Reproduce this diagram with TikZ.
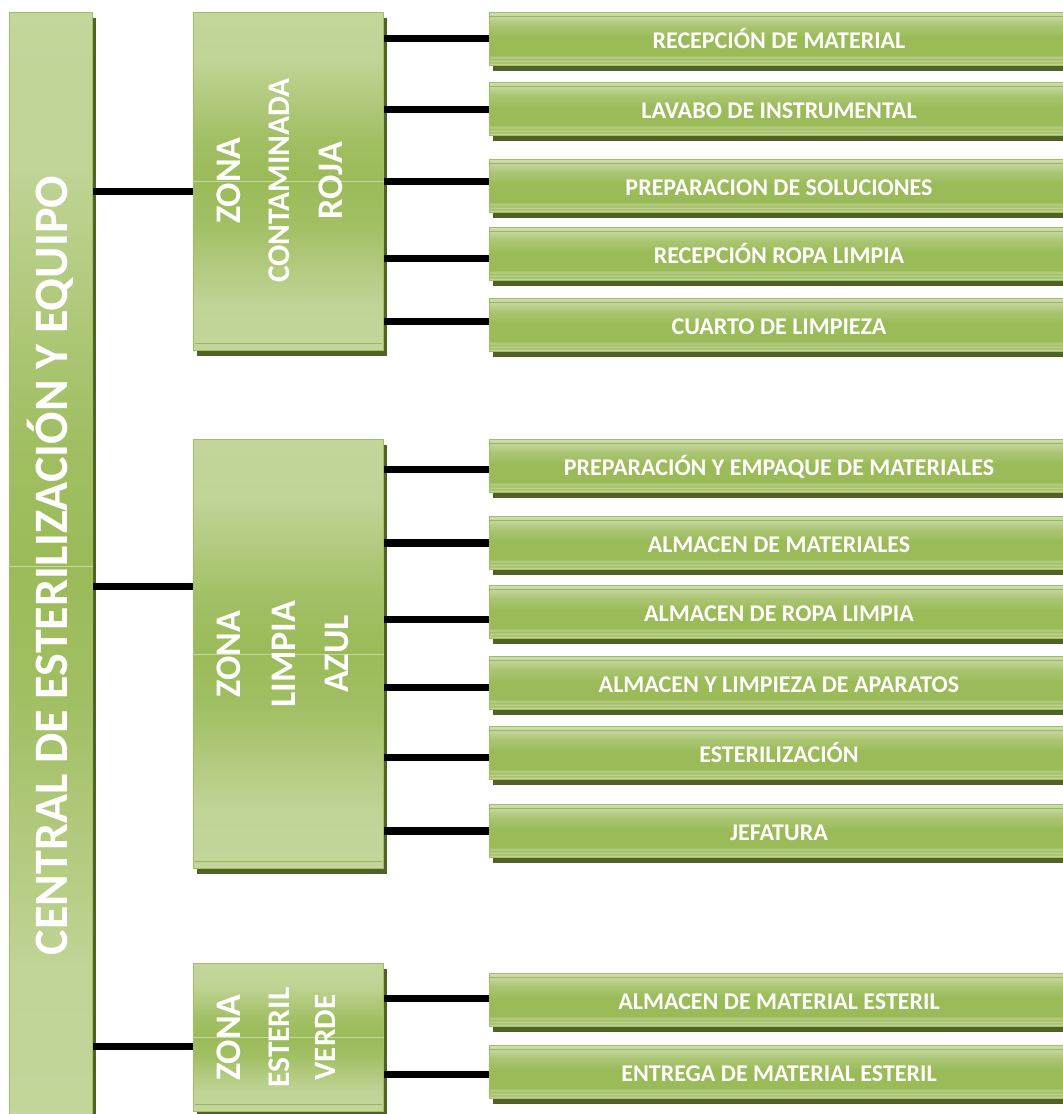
\documentclass[tikz,border=0pt]{standalone}
\usepackage{fontspec}
\setmainfont{Carlito}
\usetikzlibrary{shadows}

\definecolor{gLight}{RGB}{195,214,155}
\definecolor{gMid}{RGB}{155,187,89}
\definecolor{gEdge}{RGB}{160,192,96}
\definecolor{gShadow}{RGB}{79,98,40}
\definecolor{gLine}{RGB}{128,156,70}

% light - mid - light panel shading (path maps to 25bp..75bp)
\pgfdeclareverticalshading{zoneshade}{100bp}{
  color(0bp)=(gLight); color(25bp)=(gLight); color(32bp)=(gLight!92!gMid);
  color(44bp)=(gMid!85!gLight); color(50bp)=(gMid); color(56bp)=(gMid!85!gLight);
  color(68bp)=(gLight!92!gMid); color(75bp)=(gLight); color(100bp)=(gLight)}

% glossy bar shading with light stripes near the bottom
\pgfdeclareverticalshading{itemshade}{100bp}{
  color(0bp)=(gMid); color(25bp)=(gMid!80!gLight);
  color(26.5bp)=(gLight); color(28bp)=(gMid!90!gLight); color(29.5bp)=(gLight!85!gMid);
  color(31bp)=(gMid!90!gLight); color(32.5bp)=(gLight!70!gMid); color(35bp)=(gMid);
  color(52bp)=(gMid); color(63bp)=(gMid!60!gLight); color(71bp)=(gLight);
  color(75bp)=(gLight!80!white); color(100bp)=(gLight)}

\tikzset{
  panel/.style={draw=gEdge, line width=1.2pt, inner sep=0pt, anchor=north west,
    general shadow={fill=gShadow, shadow xshift=3.5pt, shadow yshift=-5pt}},
  zonebox/.style={panel, shading=zoneshade},
  itembox/.style={panel, shading=itemshade, minimum width=580pt, minimum height=53pt},
  conn/.style={line width=7.5pt, black},
  midline/.style={draw=gLight!60!white, line width=0.6pt, opacity=0.7},
  innerline/.style={draw=gLine, line width=0.8pt, opacity=0.6},
  vtext/.style={text=white, rotate=90, anchor=base, inner sep=0pt},
  itemtext/.style={text=white, anchor=base, inner sep=0pt,
    font=\fontsize{24}{28}\selectfont\bfseries},
}

\newcommand{\bigfs}{\fontsize{36}{40}\selectfont\bfseries}
\newcommand{\midfs}{\fontsize{31.5}{36}\selectfont\bfseries}

\begin{document}
\begin{tikzpicture}[x=1pt,y=-1pt]
\useasboundingbox[fill=white] (0,0) rectangle (1063,1114);
\begin{scope}
\clip (0,0) rectangle (1063,1114);

% main column
\node[zonebox, minimum width=83pt, minimum height=1108pt] (central) at (9,12) {};
\draw[midline] (central.west) -- (central.east);
\node[vtext, font=\fontsize{48}{56}\selectfont\bfseries] (centralT)
  at ([xshift=16.5pt, yshift=1pt]central.center) {CENTRAL DE ESTERILIZACIÓN Y EQUIPO};

% zones
\node[zonebox, minimum width=190pt, minimum height=338pt] (zoneA) at (193,12) {};
\node[zonebox, minimum width=190pt, minimum height=429pt] (zoneB) at (193,439) {};
\node[zonebox, minimum width=190pt, minimum height=148pt] (zoneC) at (193,963) {};
\foreach \z in {zoneA,zoneB,zoneC}{
  \draw[midline] (\z.west) -- (\z.east);
  \draw[innerline] ([shift={(2pt,8pt)}]\z.south west) -- ([shift={(-2pt,8pt)}]\z.south east);
}

\node[vtext, font=\bigfs] (zoneA1) at ([xshift=-48pt, yshift=1pt]zoneA.center) {ZONA};
\node[vtext, font=\midfs] (zoneA2) at ([xshift=1pt, yshift=1pt]zoneA.center) {CONTAMINADA};
\node[vtext, font=\bigfs] (zoneA3) at ([xshift=54pt, yshift=1pt]zoneA.center) {ROJA};

\node[vtext, font=\bigfs] (zoneB1) at ([xshift=-48pt]zoneB.center) {ZONA};
\node[vtext, font=\bigfs] (zoneB2) at ([xshift=7pt]zoneB.center) {LIMPIA};
\node[vtext, font=\bigfs] (zoneB3) at ([xshift=60pt]zoneB.center) {AZUL};

\node[vtext, font=\bigfs] (zoneC1) at ([xshift=-48pt]zoneC.center) {ZONA};
\node[vtext, font=\midfs] (zoneC2) at ([xshift=1pt]zoneC.center) {ESTERIL};
\node[vtext, font=\fontsize{31}{36}\selectfont\bfseries] (zoneC3) at ([xshift=47pt]zoneC.center) {VERDE};

% column to zones
\draw[conn] ([yshift=-10pt]zoneA.west) -- ([yshift=-10pt]zoneA.west -| central.east);
\draw[conn] ([yshift=67.5pt]zoneB.west) -- ([yshift=67.5pt]zoneB.west -| central.east);
\draw[conn] ([yshift=-9pt]zoneC.west) -- ([yshift=-9pt]zoneC.west -| central.east);

% areas of each zone
\foreach \n/\t/\txt/\z/\d in {
  itemA1/12/RECEPCIÓN DE MATERIAL/zoneA/0.5,
  itemA2/82/LAVABO DE INSTRUMENTAL/zoneA/-0.5,
  itemA3/159/PREPARACION DE SOLUCIONES/zoneA/4.5,
  itemA4/227/RECEPCIÓN ROPA LIMPIA/zoneA/-4.5,
  itemA5/298/CUARTO DE LIMPIEZA/zoneA/3.5,
  itemB1/439/PREPARACIÓN Y EMPAQUE DE MATERIALES/zoneB/-3.5,
  itemB2/516/ALMACEN DE MATERIALES/zoneB/0,
  itemB3/585/ALMACEN DE ROPA LIMPIA/zoneB/-7.5,
  itemB4/656/ALMACEN Y LIMPIEZA DE APARATOS/zoneB/-4.5,
  itemB5/726/ESTERILIZACIÓN/zoneB/-4.5,
  itemB6/804/JEFATURA/zoneB/0,
  itemC1/973/ALMACEN DE MATERIAL ESTERIL/zoneC/1.5,
  itemC2/1045/ENTREGA DE MATERIAL ESTERIL/zoneC/-2.5}{
  \node[itembox] (\n) at (489,\t) {};
  \draw[innerline] ([yshift=-4.5pt]\n.north west) -- ([yshift=-4.5pt]\n.north east);
  \node[itemtext] (\n t) at (779,\t+36) {\txt};
  \draw[conn] ([yshift=\d pt]\n.west) -- ([yshift=\d pt]\n.west -| \z.east);
}
\end{scope}
\end{tikzpicture}
\end{document}
